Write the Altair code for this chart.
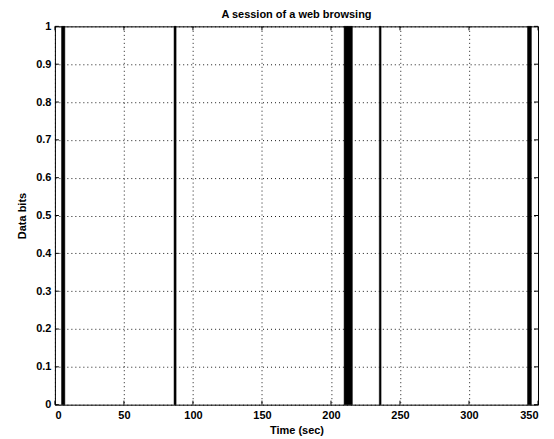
import altair as alt
import pandas as pd

# Bursts of data activity (start/end time in seconds), height = data bits
burst_start = [4.8, 86.3, 209.5, 235.0, 342.4]
burst_end = [7.2, 87.8, 215.5, 236.3, 345.2]
burst_value = [1, 1, 1, 1, 1]

x_ticks = [0, 50, 100, 150, 200, 250, 300, 350]
y_ticks = [0, 0.1, 0.2, 0.3, 0.4, 0.5, 0.6, 0.7, 0.8, 0.9, 1.0]

df = pd.DataFrame({"start": burst_start, "end": burst_end, "value": burst_value})
dx = pd.DataFrame({"t": x_ticks})
dy = pd.DataFrame({"v": y_ticks})

FONT = "Liberation Sans"
W, H, TL = 484, 379, 4

xscale = alt.Scale(domain=[0, 350], nice=False, zero=False)
yscale = alt.Scale(domain=[0, 1], nice=False)
xaxis = alt.Axis(values=x_ticks, title="Time (sec)", grid=True,
                 labelPadding=5, titlePadding=4)
yaxis = alt.Axis(values=y_ticks, format=".1~f", title="Data bits", grid=True,
                 labelPadding=4, titlePadding=8)

bars = alt.Chart(df).mark_rect(color="black", stroke="black", strokeWidth=0.5).encode(
    x=alt.X("start:Q", scale=xscale, axis=xaxis),
    x2="end:Q",
    y=alt.Y("value:Q", scale=yscale, axis=yaxis),
    y2=alt.datum(0),
)

# inward tick marks on all four sides (MATLAB style)
xt_bottom = alt.Chart(dx).mark_rule(color="black", strokeWidth=1).encode(
    x=alt.X("t:Q", scale=xscale, axis=xaxis), y=alt.value(H), y2=alt.value(H - TL))
xt_top = alt.Chart(dx).mark_rule(color="black", strokeWidth=1).encode(
    x=alt.X("t:Q", scale=xscale, axis=xaxis), y=alt.value(0), y2=alt.value(TL))
yt_left = alt.Chart(dy).mark_rule(color="black", strokeWidth=1).encode(
    y=alt.Y("v:Q", scale=yscale, axis=yaxis), x=alt.value(0), x2=alt.value(TL))
yt_right = alt.Chart(dy).mark_rule(color="black", strokeWidth=1).encode(
    y=alt.Y("v:Q", scale=yscale, axis=yaxis), x=alt.value(W), x2=alt.value(W - TL))

chart = alt.layer(bars, xt_bottom, xt_top, yt_left, yt_right).properties(
    width=W,
    height=H,
    title=alt.TitleParams("A session of a web browsing", font=FONT, fontSize=11,
                          fontWeight="bold", color="black", offset=0),
    autosize="none",
    padding={"left": 47, "top": 18, "right": 8, "bottom": 34},
    background="white",
).configure_view(
    stroke="black", strokeWidth=1
).configure_axis(
    domain=False,
    ticks=False,
    labelFont=FONT, labelFontSize=11, labelFontWeight="bold", labelColor="black",
    titleFont=FONT, titleFontSize=11, titleFontWeight="bold", titleColor="black",
    gridColor="black", gridDash=[1, 3], gridWidth=1, gridOpacity=0.9,
)

chart.save("out.html", embed_options={"renderer": "svg", "actions": False})
